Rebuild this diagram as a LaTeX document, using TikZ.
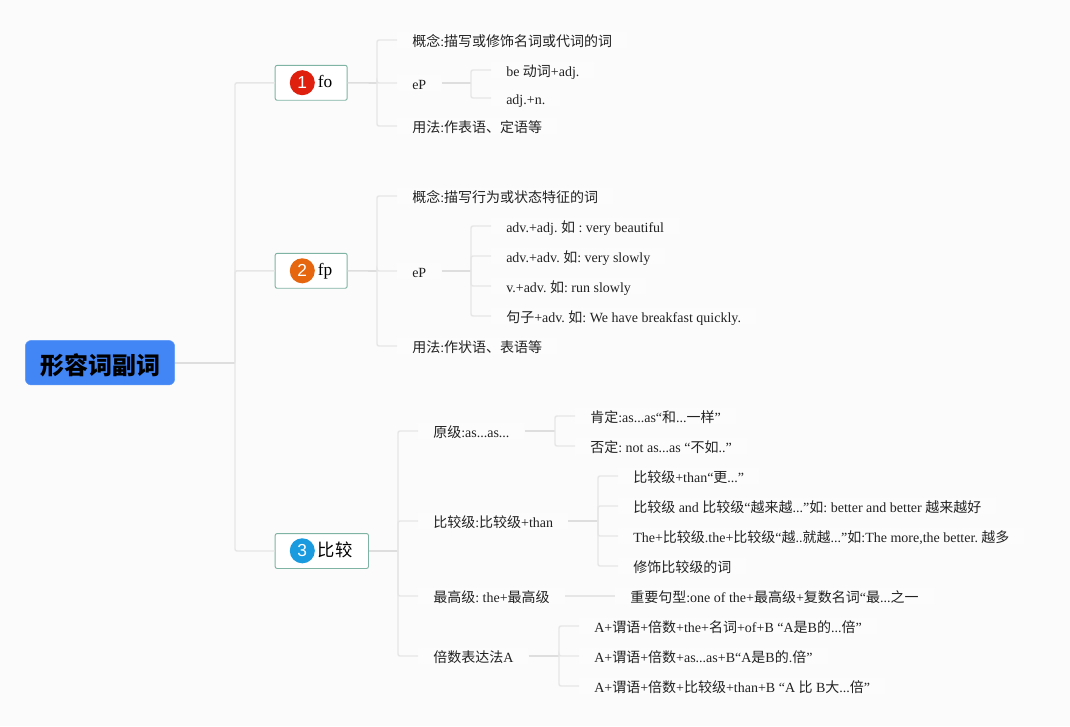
\documentclass[tikz,border=0pt]{standalone}
\usepackage{fontspec}
\setmainfont{Liberation Serif}
\newfontfamily\cjk{Noto Sans CJK SC}
\newfontfamily\badgefont{Liberation Sans}
\newcommand{\zh}[1]{{\cjk #1}}
\frenchspacing
\definecolor{pagebg}{HTML}{FBFBFB}
\definecolor{rootblue}{HTML}{4285F4}
\definecolor{topicline}{HTML}{7FB3A3}
\definecolor{branchgray}{HTML}{E6E6E6}
\definecolor{stemgray}{HTML}{DEDEDE}
\definecolor{inkgray}{HTML}{222222}
\definecolor{badgered}{HTML}{E0200F}
\definecolor{badgeorange}{HTML}{E5660F}
\definecolor{badgeblue}{HTML}{1A9BDF}
\begin{document}
\begin{tikzpicture}[
  x=0.75pt, y=-0.75pt,
  root/.style={fill=rootblue, draw=rootblue!85!white, rounded corners=4.5pt, minimum width=112pt, minimum height=33.4pt,
    inner sep=0pt, text height=17.9pt, text depth=0pt, font=\fontsize{18}{20}\selectfont\cjk\bfseries},
  topic/.style={draw=topicline, line width=0.7pt, fill=white, rounded corners=1.5pt, anchor=west, inner xsep=0pt, inner ysep=0pt,
    text width=#1, align=left, minimum height=26.2pt, text height=10.6pt, text depth=3pt,
    font=\fontsize{13}{14}\selectfont, execute at begin node=\hspace*{32pt}},
  badge/.style={circle, fill=#1, text=white, minimum size=18.8pt, inner sep=0pt, font=\fontsize{13}{14}\selectfont\badgefont},
  leaf/.style={anchor=west, fill=white, fill opacity=0.35, text opacity=1, text=inkgray, inner xsep=11.25pt, inner ysep=0pt,
    text height=11.2pt, text depth=1pt, font=\fontsize{10.5}{12}\selectfont},
  branch/.style={draw=branchgray, line width=1.1pt, rounded corners=1.5pt},
  stem/.style={draw=stemgray, line width=1.2pt}]
    % Page
    \fill[pagebg] (0,0) rectangle (1070,726);
    \useasboundingbox (0,0) rectangle (1070,726);
    % Root and the three topics
    \node[root] (adj) at (100,362.7) {形容词副词};
    \node[topic=54pt] (fo) at (274.7,82.8) {fo};
    \node[topic=54pt] (fp) at (274.7,270.8) {fp};
    \node[topic=70pt] (cmp) at (274.7,551) {\zh{比较}};
    \node[badge=badgered] (foicon) at (302.3,82.7) {1};
    \node[badge=badgeorange] (fpicon) at (302.3,270.8) {2};
    \node[badge=badgeblue] (cmpicon) at (302.3,550.8) {3};
    % Branch fo
    \node[leaf] (foa) at (397,40) {\zh{概念}:\zh{描写或修饰名词或代词的词}};
    \node[leaf] (fob) at (397,83) {eP};
    \node[leaf] (foc) at (397,126) {\zh{用法}:\zh{作表语、定语等}};
    \node[leaf] (fob1) at (491,70) {be \zh{动词}+adj.};
    \node[leaf] (fob2) at (491,98) {adj.+n.};
    % Branch fp
    \node[leaf] (fpa) at (397,196) {\zh{概念}:\zh{描写行为或状态特征的词}};
    \node[leaf] (fpb) at (397,271) {eP};
    \node[leaf] (fpc) at (397,346) {\zh{用法}:\zh{作状语、表语等}};
    \node[leaf] (fpb1) at (491,226) {adv.+adj. \zh{如} : very beautiful};
    \node[leaf] (fpb2) at (491,256) {adv.+adv. \zh{如}: very slowly};
    \node[leaf] (fpb3) at (491,286) {v.+adv. \zh{如}: run slowly};
    \node[leaf] (fpb4) at (491,316) {\zh{句子}+adv. \zh{如}: We have breakfast quickly.};
    % Branch cmp
    \node[leaf] (cmpa) at (418,431) {\zh{原级}:as...as...};
    \node[leaf] (cmpb) at (418,521) {\zh{比较级}:\zh{比较级}+than};
    \node[leaf] (cmpc) at (418,596) {\zh{最高级}: the+\zh{最高级}};
    \node[leaf] (cmpd) at (418,656) {\zh{倍数表达法}A};
    \node[leaf] (cmpa1) at (575,416) {\zh{肯定}:as...as“\zh{和}...\zh{一样}”};
    \node[leaf] (cmpa2) at (575,446) {\zh{否定}: not as...as “\zh{不如}..”};
    \node[leaf] (cmpb1) at (618,476) {\zh{比较级}+than“\zh{更}...”};
    \node[leaf] (cmpb2) at (618,506) {\zh{比较级} and \zh{比较级}“\zh{越来越}...”\zh{如}: better and better \zh{越来越好}};
    \node[leaf] (cmpb3) at (618,536) {The+\zh{比较级}.the+\zh{比较级}“\zh{越}..\zh{就越}...”\zh{如}:The more,the better. \zh{越多}};
    \node[leaf] (cmpb4) at (618,566) {\zh{修饰比较级的词}};
    \node[leaf] (cmpc1) at (615,596) {\zh{重要句型}:one of the+\zh{最高级}+\zh{复数名词}“\zh{最}...\zh{之一}};
    \node[leaf] (cmpd1) at (579,626) {A+\zh{谓语}+\zh{倍数}+the+\zh{名词}+of+B “A\zh{是}B\zh{的}...\zh{倍}”};
    \node[leaf] (cmpd2) at (579,656) {A+\zh{谓语}+\zh{倍数}+as...as+B“A\zh{是}B\zh{的}.\zh{倍}”};
    \node[leaf] (cmpd3) at (579,686) {A+\zh{谓语}+\zh{倍数}+\zh{比较级}+than+B “A \zh{比} B\zh{大}...\zh{倍}”};
    % Junctions
    \coordinate (adjj) at (235,362.7);
    \coordinate (foj) at (377,83);
    \coordinate (fobj) at (471,83);
    \coordinate (fpj) at (377,271);
    \coordinate (fpbj) at (471,271);
    \coordinate (cmpj) at (398,551);
    \coordinate (cmpaj) at (555,431);
    \coordinate (cmpbj) at (598,521);
    \coordinate (cmpdj) at (559,656);
    % Connectors
    \draw[stem] (adj.east) -- (adjj);
    \foreach \t in {fo,fp,cmp} \draw[branch] (adjj) |- (\t.west);
    \draw[stem] (fo.east) -- (foj);
    \foreach \t in {foa,fob,foc} \draw[branch] (foj) |- (\t.west);
    \draw[stem] (fob.east) -- (fobj);
    \foreach \t in {fob1,fob2} \draw[branch] (fobj) |- (\t.west);
    \draw[stem] (fp.east) -- (fpj);
    \foreach \t in {fpa,fpb,fpc} \draw[branch] (fpj) |- (\t.west);
    \draw[stem] (fpb.east) -- (fpbj);
    \foreach \t in {fpb1,fpb2,fpb3,fpb4} \draw[branch] (fpbj) |- (\t.west);
    \draw[stem] (cmp.east) -- (cmpj);
    \foreach \t in {cmpa,cmpb,cmpc,cmpd} \draw[branch] (cmpj) |- (\t.west);
    \draw[stem] (cmpa.east) -- (cmpaj);
    \foreach \t in {cmpa1,cmpa2} \draw[branch] (cmpaj) |- (\t.west);
    \draw[stem] (cmpb.east) -- (cmpbj);
    \foreach \t in {cmpb1,cmpb2,cmpb3,cmpb4} \draw[branch] (cmpbj) |- (\t.west);
    \draw[branch] (cmpc.east) -- (cmpc1.west);
    \draw[stem] (cmpd.east) -- (cmpdj);
    \foreach \t in {cmpd1,cmpd2,cmpd3} \draw[branch] (cmpdj) |- (\t.west);
\end{tikzpicture}
\end{document}
